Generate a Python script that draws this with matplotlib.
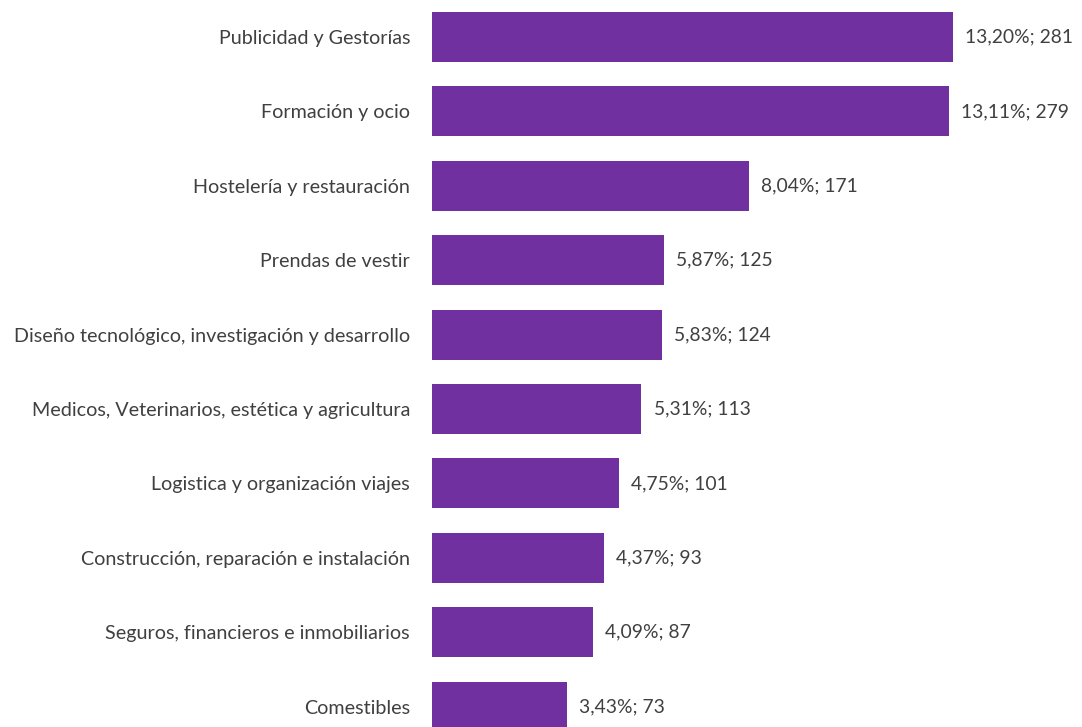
import matplotlib.pyplot as plt

# data
categories = ['Publicidad y Gestorías', 'Formación y ocio', 'Hostelería y restauración',
              'Prendas de vestir', 'Diseño tecnológico, investigación y desarrollo',
              'Medicos, Veterinarios, estética y agricultura', 'Logistica y organización viajes',
              'Construcción, reparación e instalación', 'Seguros, financieros e inmobiliarios',
              'Comestibles']
counts = [281, 279, 171, 125, 124, 113, 101, 93, 87, 73]
percents = ['13,20%', '13,11%', '8,04%', '5,87%', '5,83%', '5,31%', '4,75%', '4,37%', '4,09%', '3,43%']

plt.rcParams['font.family'] = ['Lato', 'DejaVu Sans']
text_color = '#404040'

fig = plt.figure(figsize=(10.82, 7.27), dpi=100)
ax = fig.add_axes([432 / 1082, 0, 650 / 1082, 1])

y = list(range(len(categories)))
ax.barh(y, counts, height=0.67, color='#7030A0')

for yi, c, p in zip(y, counts, percents):
    ax.text(c + 6.5, yi, f'{p}; {c}', va='center', ha='left', fontsize=13.9, color=text_color)

ax.set_xlim(0, 350.6)
ax.set_ylim(9.274, -0.497)
ax.set_yticks(y)
ax.set_yticklabels(categories, fontsize=14.2, color=text_color)
ax.tick_params(axis='y', length=0, pad=15.8)
ax.set_xticks([])
for s in ax.spines.values():
    s.set_visible(False)

plt.savefig('out.png', dpi=100)
